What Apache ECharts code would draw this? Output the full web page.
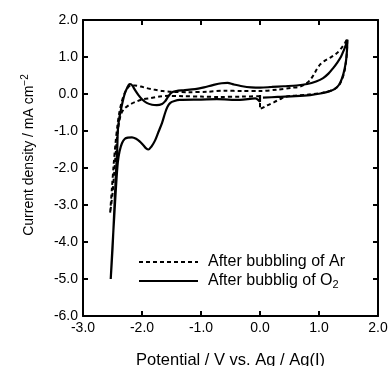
<!DOCTYPE html>
<html>
<head>
<meta charset="utf-8">
<style>
  html, body { margin: 0; padding: 0; background: #fff; }
  #chart { width: 390px; height: 366px; }
</style>
<script src="https://cdn.jsdelivr.net/npm/echarts@6/dist/echarts.min.js"></script>
</head>
<body>
<div id="chart"></div>
<script>
// CV after O2 bubbling (solid): potential V, current mA cm^-2
const o2Potential = [
  0, 0, -0.08,
  -0.34, -0.73, -1.0, -1.36, -1.45, -1.52, -1.57, -1.61, -1.66, -1.72, -1.78, -1.84, -1.89, -1.93,
  -1.98, -2.04, -2.1, -2.17, -2.24, -2.29, -2.34, -2.38, -2.41, -2.44, -2.47, -2.5, -2.53,
  -2.5, -2.48, -2.46, -2.44, -2.42, -2.41, -2.39, -2.36, -2.33, -2.29, -2.25, -2.21, -2.17, -2.12,
  -2.06, -2.0, -1.92, -1.83, -1.75, -1.66, -1.61, -1.56, -1.5, -1.42, -1.3, -1.1, -0.95, -0.8,
  -0.65, -0.55, -0.45, -0.3, -0.15, 0, 0.2, 0.4, 0.62, 0.8, 0.95, 1.07, 1.16, 1.24, 1.31, 1.37,
  1.42, 1.46, 1.48,
  1.475, 1.46, 1.43, 1.39, 1.34, 1.27, 1.17, 1.05, 0.85, 0.6, 0.3, 0.05
];
const o2Current = [
  -0.03, -0.21, -0.12,
  -0.16, -0.14, -0.15, -0.16, -0.19, -0.24, -0.35, -0.52, -0.78, -1.02, -1.26, -1.42, -1.5, -1.47,
  -1.38, -1.28, -1.21, -1.17, -1.18, -1.21, -1.33, -1.55, -1.85, -2.5, -3.3, -4.1, -5.0,
  -4.2, -3.5, -2.8, -2.1, -1.5, -1.0, -0.7, -0.45, -0.22, 0.02, 0.17, 0.27, 0.24, 0.11,
  -0.03, -0.14, -0.24, -0.29, -0.3, -0.27, -0.2, -0.08, 0.04, 0.08, 0.1, 0.13, 0.18, 0.24,
  0.29, 0.3, 0.26, 0.21, 0.18, 0.17, 0.19, 0.21, 0.23, 0.27, 0.34, 0.43, 0.55, 0.7, 0.85, 1.0,
  1.18, 1.35, 1.47,
  1.2, 0.92, 0.65, 0.42, 0.25, 0.14, 0.07, 0.02, -0.03, -0.06, -0.08, -0.1
];

// CV after Ar bubbling (dashed)
const arPotential = [
  0, -0.3, -0.7, -1.0, -1.3, -1.55, -1.7, -1.85, -2.0, -2.12, -2.22, -2.3, -2.35, -2.38, -2.41,
  -2.44, -2.47, -2.5, -2.54,
  -2.51, -2.48, -2.45, -2.42, -2.39, -2.35, -2.3, -2.25, -2.19, -2.12, -2.02, -1.92, -1.8, -1.65,
  -1.5, -1.2, -0.9, -0.6, -0.3, 0, 0.3, 0.55, 0.68, 0.78, 0.85, 0.91, 0.96, 1.02, 1.1, 1.2, 1.3,
  1.38, 1.44, 1.48,
  1.475, 1.46, 1.43, 1.38, 1.32, 1.22, 1.05, 0.8, 0.55, 0.42, 0.34, 0.24, 0.12, 0, 0
];
const arCurrent = [
  -0.06, -0.07, -0.08, -0.07, -0.06, -0.05, -0.07, -0.11, -0.15, -0.22, -0.3, -0.4, -0.52, -0.7, -1.0,
  -1.5, -2.1, -2.7, -3.22,
  -2.55, -1.9, -1.35, -0.9, -0.55, -0.25, 0.0, 0.15, 0.23, 0.23, 0.2, 0.16, 0.12, 0.08,
  0.06, 0.05, 0.06, 0.09, 0.08, 0.08, 0.12, 0.17, 0.2, 0.28, 0.38, 0.52, 0.66, 0.8, 0.9, 0.99, 1.1,
  1.24, 1.38, 1.5,
  1.2, 0.9, 0.6, 0.36, 0.2, 0.1, 0.03, -0.02, -0.05, -0.08, -0.14, -0.22, -0.31, -0.41, -0.08
];

const seriesNames = ["After bubbling of Ar", "After bubblig of O2"];

const font = "Liberation Sans, Arial, sans-serif";
const zip = (xs, ys) => xs.map((x, i) => [x, ys[i]]);

const chart = echarts.init(document.getElementById("chart"), null, { renderer: "canvas" });

const mirrorAxis = {
  axisLine: { show: true, onZero: false, lineStyle: { color: "#000", width: 2 } },
  axisTick: { show: true, inside: true, length: 5, lineStyle: { color: "#000", width: 2 } },
  axisLabel: { show: false },
  splitLine: { show: false },
};

chart.setOption({
  animation: false,
  backgroundColor: "#fff",
  grid: { left: 83, right: 12, top: 20, bottom: 50, outerBoundsMode: "none" },
  legend: {
    orient: "vertical",
    left: 138,
    top: 254,
    padding: 0,
    itemWidth: 59,
    itemHeight: 10,
    itemGap: 3,
    itemStyle: { opacity: 0 },
    data: seriesNames,
    formatter: (name) =>
      name.endsWith("O2") ? "{n|" + name.slice(0, -1) + "}{sub|2}" : "{n|" + name + "}",
    textStyle: {
      color: "#000",
      fontFamily: font,
      padding: [0, 0, 0, 5],
      rich: {
        n: { fontSize: 16, fontFamily: font, color: "#000", lineHeight: 18 },
        sub: { fontSize: 11, fontFamily: font, color: "#000", verticalAlign: "bottom", lineHeight: 10 },
      },
    },
  },
  xAxis: [
    {
      type: "value",
      min: -3,
      max: 2,
      interval: 1,
      name: "Potential / V vs. Ag / Ag(I)",
      nameLocation: "middle",
      nameGap: 36,
      nameTextStyle: { fontSize: 16.5, fontFamily: font, color: "#000" },
      axisLine: { onZero: false, lineStyle: { color: "#000", width: 2 } },
      axisTick: { inside: true, length: 5, lineStyle: { color: "#000", width: 2 } },
      axisLabel: {
        fontSize: 14,
        fontFamily: font,
        color: "#000",
        margin: 5,
        showMinLabel: true,
        showMaxLabel: true,
        formatter: (v) => v.toFixed(1),
      },
      splitLine: { show: false },
    },
    Object.assign({ type: "value", min: -3, max: 2, interval: 1, position: "top" }, mirrorAxis),
  ],
  yAxis: [
    {
      type: "value",
      min: -6,
      max: 2,
      interval: 1,
      axisLine: { show: true, onZero: false, lineStyle: { color: "#000", width: 2 } },
      axisTick: { show: true, inside: true, length: 5, lineStyle: { color: "#000", width: 2 } },
      axisLabel: {
        fontSize: 14,
        fontFamily: font,
        color: "#000",
        margin: 5,
        showMinLabel: true,
        showMaxLabel: true,
        formatter: (v) => v.toFixed(1),
      },
      splitLine: { show: false },
    },
    Object.assign({ type: "value", min: -6, max: 2, interval: 1, position: "right" }, mirrorAxis),
  ],
  graphic: [
    {
      type: "text",
      x: 29,
      y: 155,
      rotation: Math.PI / 2,
      style: {
        text: "{n|Current density / mA cm}{sup|−2}",
        align: "center",
        verticalAlign: "middle",
        rich: {
          n: { fontSize: 14, fontFamily: font, fill: "#000", lineHeight: 18 },
          sup: { fontSize: 10, fontFamily: font, fill: "#000", verticalAlign: "top", lineHeight: 18 },
        },
      },
    },
  ],
  series: [
    {
      name: seriesNames[0],
      type: "line",
      data: zip(arPotential, arCurrent),
      symbol: "none",
      smooth: 0.3,
      lineStyle: { color: "#000", width: 2, type: [4, 3] },
      itemStyle: { color: "#000" },
    },
    {
      name: seriesNames[1],
      type: "line",
      data: zip(o2Potential, o2Current),
      symbol: "none",
      smooth: 0.3,
      lineStyle: { color: "#000", width: 2.2 },
      itemStyle: { color: "#000" },
    },
  ],
});
</script>
</body>
</html>
